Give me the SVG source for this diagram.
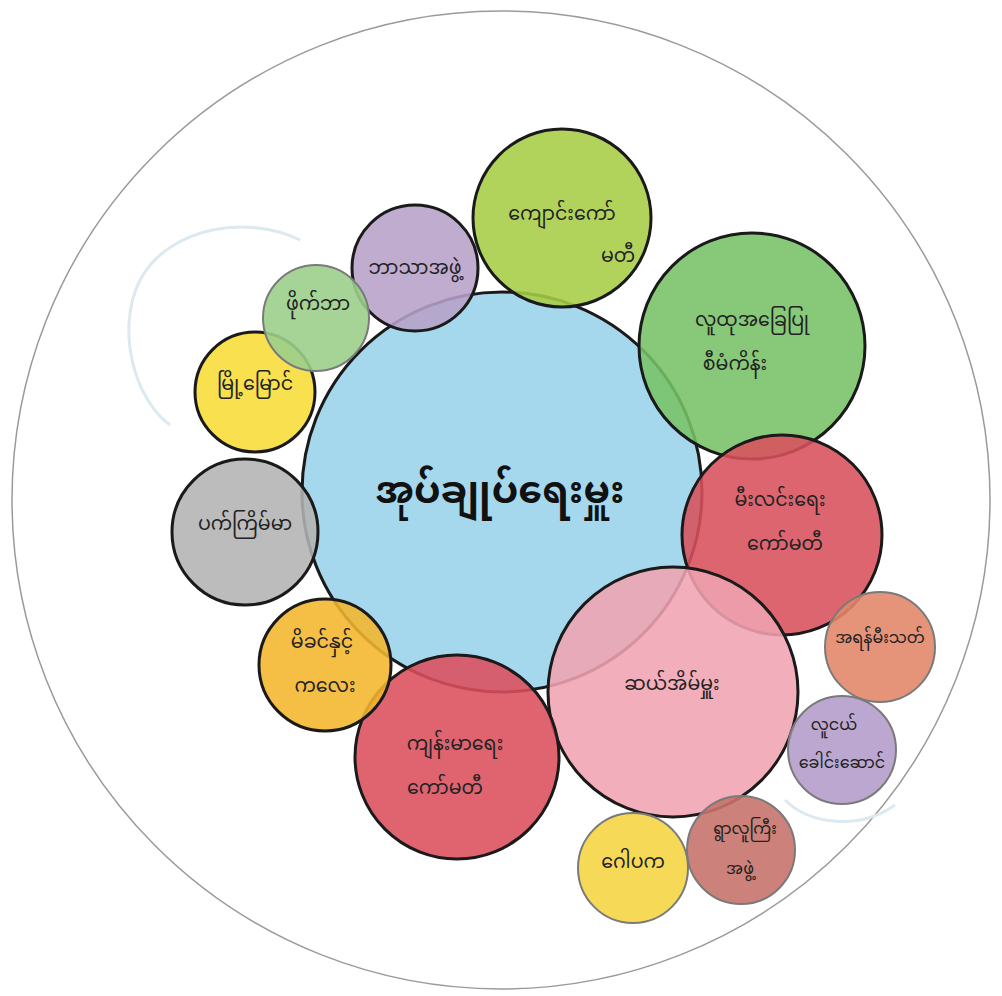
<svg xmlns="http://www.w3.org/2000/svg" width="1002" height="996" viewBox="0 0 1002 996">
<style>
.n{stroke:#1a1a1a;stroke-width:3;fill-opacity:0.88}
.s{stroke:#7a7a7a;stroke-width:2;fill-opacity:0.9}
text{font-family:"Noto Sans Myanmar","Padauk","Myanmar Text","Noto Sans",sans-serif;font-size:19px;fill:#222;text-anchor:middle}
.c{font-size:38px;font-weight:bold;fill:#111}
.m{font-size:16px}
</style>
<rect width="1002" height="996" fill="#ffffff"/>
<circle cx="501" cy="500" r="489" fill="none" stroke="#9a9a9a" stroke-width="1.5"/>
<g id="faint" fill="none" stroke="#dde9f0" stroke-width="3">
<path d="M300 240 C250 215 170 225 140 280 C115 330 135 400 170 425"/>
<path d="M785 800 C810 825 860 830 895 805"/>
</g>
<g id="center"><circle class="n" cx="502" cy="492" r="200" fill="#98d3ea"/></g>
<g id="school"><circle class="n" cx="562" cy="218" r="89" fill="#a6cd45"/><text x="562" y="220">ကျောင်းကော်</text><text x="618" y="262">မတီ</text></g>
<g id="religion"><circle class="n" cx="415" cy="268" r="63" fill="#b7a0c8"/><text x="415" y="274">ဘာသာအဖွဲ့</text></g>
<g id="project"><circle class="n" cx="752" cy="346" r="113" fill="#78c266"/><text x="752" y="326">လူထုအခြေပြု</text><text x="735" y="370">စီမံကိန်း</text></g>
<g id="electric"><circle class="n" cx="782" cy="535" r="100" fill="#d8505c"/><text x="780" y="506">မီးလင်းရေး</text><text x="785" y="550">ကော်မတီ</text></g>
<g id="tenhouse"><circle class="n" cx="673" cy="692" r="125" fill="#f0a3b0"/><text x="672" y="690">ဆယ်အိမ်မှူး</text></g>
<g id="health"><circle class="n" cx="457" cy="757" r="102" fill="#dc4d5c"/><text x="455" y="750">ကျန်းမာရေး</text><text x="445" y="794">ကော်မတီ</text></g>
<g id="mother"><circle class="n" cx="325" cy="665" r="66" fill="#f4b52a"/><text x="322" y="648">မိခင်နှင့်</text><text x="325" y="692">ကလေး</text></g>
<g id="gray"><circle class="n" cx="245" cy="532" r="73" fill="#b3b3b3"/><text x="245" y="530">ပက်ကြိမ်မာ</text></g>
<g id="yellowleft"><circle class="n" cx="255" cy="392" r="60" fill="#f7dc36" stroke="#333"/><text x="255" y="390">မြို့မြောင်</text></g>
<g id="greenleft"><circle class="s" cx="316" cy="318" r="53" fill="#9bcf8b"/><text x="318" y="310">ဖိုက်ဘာ</text></g>
<g id="fire"><circle class="s" cx="880" cy="647" r="55" fill="#e2876a"/><text class="m" x="880" y="643">အရန်မီးသတ်</text></g>
<g id="youth"><circle class="s" cx="842" cy="750" r="54" fill="#b59dcb"/><text class="m" x="834" y="730">လူငယ်</text><text class="m" x="842" y="768">ခေါင်းဆောင်</text></g>
<g id="elders"><circle class="s" cx="741" cy="850" r="54" fill="#c6736b"/><text class="m" x="745" y="834">ရွာလူကြီး</text><text class="m" x="740" y="874">အဖွဲ့</text></g>
<g id="trustee"><circle class="s" cx="633" cy="868" r="55" fill="#f5d545"/><text x="633" y="868">ဂေါပက</text></g>
<g id="connectors"/>
<text class="c" x="500" y="503">အုပ်ချုပ်ရေးမှူး</text>
</svg>
